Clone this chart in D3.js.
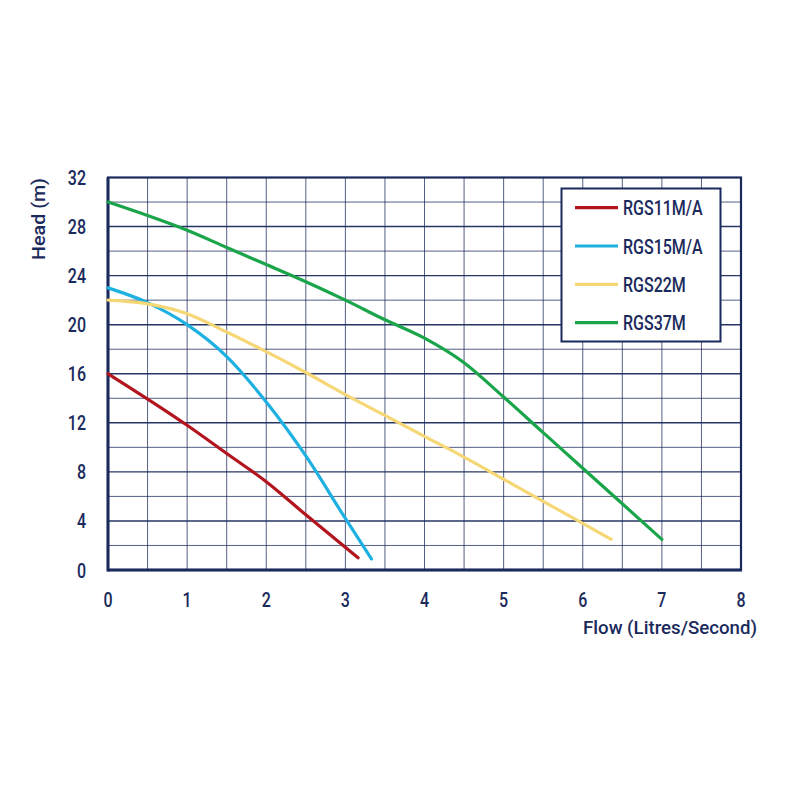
<!DOCTYPE html>
<html>
<head>
<meta charset="utf-8">
<script src="https://cdn.jsdelivr.net/npm/d3@7"></script>
<style>
  html, body { margin: 0; padding: 0; background: #fff; }
  svg text { font-family: Roboto, "Noto Sans", sans-serif; font-weight: 500; fill: #1b2a5c; }
</style>
</head>
<body>
<svg id="chart" width="800" height="800"></svg>
<script>
// ---- data ----
const seriesNames = ["RGS11M/A", "RGS15M/A", "RGS22M", "RGS37M"];
const seriesColors = ["#b3151e", "#1fb0e2", "#f6d775", "#1ba54b"];
const rgs11Flow = [0, 1, 1.5, 2, 2.5, 3.16];
const rgs11Head = [16, 11.8, 9.5, 7.2, 4.5, 1.0];
const rgs15Flow = [0, 0.5, 1, 1.5, 2, 2.5, 3, 3.33];
const rgs15Head = [23, 21.8, 20.0, 17.4, 13.7, 9.3, 4.2, 0.9];
const rgs22Flow = [0, 0.5, 1, 1.5, 2, 2.5, 3, 3.5, 4, 4.5, 5, 5.5, 6, 6.36];
const rgs22Head = [22, 21.7, 20.9, 19.4, 17.8, 16.1, 14.3, 12.6, 10.9, 9.2, 7.4, 5.6, 3.8, 2.5];
const rgs37Flow = [0, 0.5, 1, 1.5, 2, 2.5, 3, 3.5, 4, 4.5, 5, 5.5, 6, 6.5, 7];
const rgs37Head = [30, 28.9, 27.7, 26.3, 24.9, 23.5, 22.0, 20.4, 18.9, 16.9, 14.1, 11.2, 8.3, 5.4, 2.5];
const xTicks = [0, 1, 2, 3, 4, 5, 6, 7, 8];
const yTicks = [0, 4, 8, 12, 16, 20, 24, 28, 32];
const xLabel = "Flow (Litres/Second)";
const yLabel = "Head (m)";

const series = [
  { name: seriesNames[0], color: seriesColors[0], pts: rgs11Flow.map((f, i) => [f, rgs11Head[i]]) },
  { name: seriesNames[1], color: seriesColors[1], pts: rgs15Flow.map((f, i) => [f, rgs15Head[i]]) },
  { name: seriesNames[2], color: seriesColors[2], pts: rgs22Flow.map((f, i) => [f, rgs22Head[i]]) },
  { name: seriesNames[3], color: seriesColors[3], pts: rgs37Flow.map((f, i) => [f, rgs37Head[i]]) }
];

// ---- layout ----
const navy = "#1b2a5c";
const L = 108, R = 741, T = 177.5, B = 570;
const svg = d3.select("#chart");
const x = d3.scaleLinear().domain([0, 8]).range([L, R]);
const y = d3.scaleLinear().domain([0, 32]).range([B, T]);

// grid
const g = svg.append("g");
d3.range(0.5, 8, 0.5).forEach(v => {
  g.append("line").attr("x1", x(v)).attr("x2", x(v)).attr("y1", T).attr("y2", B)
    .attr("stroke", navy).attr("stroke-opacity", 0.75).attr("stroke-width", 1);
});
d3.range(2, 32, 2).forEach(v => {
  g.append("line").attr("x1", L).attr("x2", R).attr("y1", y(v)).attr("y2", y(v))
    .attr("stroke", navy).attr("stroke-opacity", v % 4 === 0 ? 0.95 : 0.75).attr("stroke-width", v % 4 === 0 ? 1.4 : 1);
});

// frame
svg.append("rect").attr("x", L).attr("y", T).attr("width", R - L).attr("height", B - T)
  .attr("fill", "none").attr("stroke", navy).attr("stroke-width", 2.2);
svg.append("line").attr("x1", L).attr("x2", L).attr("y1", T).attr("y2", B + 1.5).attr("stroke", navy).attr("stroke-width", 3);
svg.append("line").attr("x1", L).attr("x2", R + 1).attr("y1", B).attr("y2", B).attr("stroke", navy).attr("stroke-width", 3);

// curves
const line = d3.line().x(d => x(d[0])).y(d => y(d[1])).curve(d3.curveMonotoneX);
series.forEach(s => {
  svg.append("path").datum(s.pts).attr("d", line).attr("fill", "none")
    .attr("stroke", s.color).attr("stroke-width", 3.2).attr("stroke-linecap", "round").attr("stroke-linejoin", "round");
});

// tick labels (condensed look)
const sx = 0.8;
xTicks.forEach(v => {
  svg.append("text").attr("transform", `translate(${x(v)},607) scale(${sx},1)`)
    .attr("text-anchor", "middle").attr("font-size", 20).attr("font-weight", 700).text(v);
});
yTicks.forEach(v => {
  svg.append("text").attr("transform", `translate(86,${y(v) + 7.5}) scale(${sx},1)`)
    .attr("text-anchor", "end").attr("font-size", 20).attr("font-weight", 700).text(v);
});

// axis titles
svg.append("text").attr("x", 583).attr("y", 634).attr("font-size", 19).attr("font-weight", 700)
  .attr("textLength", 174).attr("lengthAdjust", "spacingAndGlyphs").text(xLabel);
svg.append("text").attr("transform", `translate(45,260) rotate(-90)`)
  .attr("font-size", 19).attr("font-weight", 700)
  .attr("textLength", 82).attr("lengthAdjust", "spacingAndGlyphs").text(yLabel);

// legend
const lg = svg.append("g");
lg.append("rect").attr("x", 561.5).attr("y", 188.5).attr("width", 159).attr("height", 153)
  .attr("fill", "#fff").attr("stroke", navy).attr("stroke-width", 2);
const rowY = [207.7, 246, 284.3, 322.7];
series.forEach((s, i) => {
  lg.append("line").attr("x1", 575).attr("x2", 618).attr("y1", rowY[i]).attr("y2", rowY[i])
    .attr("stroke", s.color).attr("stroke-width", 3.2);
  lg.append("text").attr("transform", `translate(623,${rowY[i] + 7.5}) scale(${sx},1)`)
    .attr("font-size", 20).attr("font-weight", 700).text(s.name);
});
</script>
</body>
</html>
